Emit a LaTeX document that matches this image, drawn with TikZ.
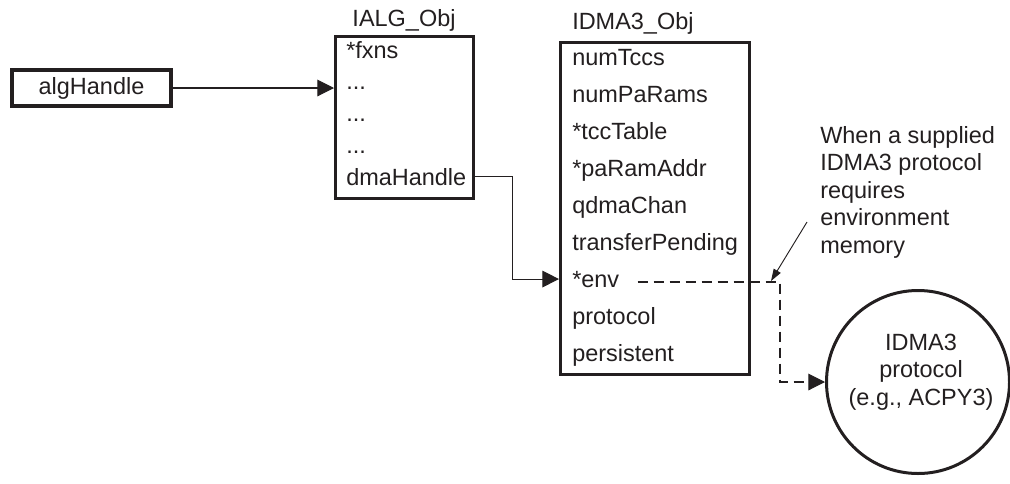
\documentclass[tikz,border=0pt]{standalone}
\usepackage{fontspec}
\setmainfont{Liberation Sans}
\usetikzlibrary{arrows.meta,calc}
\definecolor{ink}{HTML}{231F20}
\begin{document}
\begin{tikzpicture}[x=0.75pt,y=-0.75pt,
  every node/.style={font=\fontsize{17.6}{20.6}\selectfont, text=ink},
  objbox/.style={draw=ink, line width=2.5pt, inner sep=0pt},
  item/.style={anchor=base west, inner sep=0pt},
  title/.style={anchor=base, inner sep=0pt},
  conn/.style={draw=ink, line width=0.8pt, -{Triangle[length=12.5pt,width=12.5pt]}},
  dconn/.style={conn, dash pattern=on 7.5pt off 4.5pt},
  pointer/.style={draw=ink, line width=0.7pt, -{Triangle[length=9pt,width=6pt]}}]
\useasboundingbox (0,0) rectangle (1010,483);

% algHandle
\node[objbox, minimum width=119.25pt, minimum height=27pt] (alg) at (91.5,88) {algHandle};

% IALG_Obj
\node[title] (ialgt) at (404,26) {IALG\_Obj};
\node[objbox, anchor=north west, minimum width=103.5pt, minimum height=121.5pt] (ialg) at (334,35) {};
\node[item] (fxns) at (346,58) {*fxns};
\node[item] (d1) at (346,89.7) {...};
\node[item] (d2) at (346,121.4) {...};
\node[item] (d3) at (346,153) {...};
\node[item] (dma) at (346,185) {dmaHandle};

% IDMA3_Obj
\node[item] (idmat) at (572,29) {IDMA3\_Obj};
\node[objbox, anchor=north west, minimum width=141.75pt, minimum height=249pt] (idma) at (559,41) {};
\node[item] (ntcc) at (572,65) {numTccs};
\node[item] (npar) at (572,102) {numPaRams};
\node[item] (tcct) at (572,139) {*tccTable};
\node[item] (para) at (572,176) {*paRamAddr};
\node[item] (qdma) at (572,213) {qdmaChan};
\node[item] (tpen) at (572,250) {transferPending};
\node[item] (env) at (572,287) {*env};
\node[item] (prot) at (572,324) {protocol};
\node[item] (pers) at (572,361) {persistent};

% protocol circle
\node[circle, draw=ink, line width=2.25pt, minimum size=137.25pt, inner sep=0pt] (proto) at (918,382) {};
\node[align=center, inner sep=0pt] (protot) at (921,372) {IDMA3\\protocol\\(e.g., ACPY3)};

% note
\node[anchor=north west, align=left, inner sep=0pt] (note) at (820,126)
  {When a supplied\\IDMA3 protocol\\requires\\environment\\memory};

% connectors
\draw[conn] (alg.east) -- (alg.east -| ialg.west);
\draw[conn] (dma.east -| ialg.east) -- ++(37,0) |- (env.west -| idma.west);
\coordinate (envd) at ($(env.base east)+(18,-5)$);
\draw[dconn] (envd) -| ([xshift=-45*0.75pt]proto.west) -- (proto.west);
\coordinate (noteptr) at (807,222);
\coordinate (envcorner) at (771,281);
\draw[pointer] (noteptr) -- (envcorner);
\end{tikzpicture}
\end{document}
